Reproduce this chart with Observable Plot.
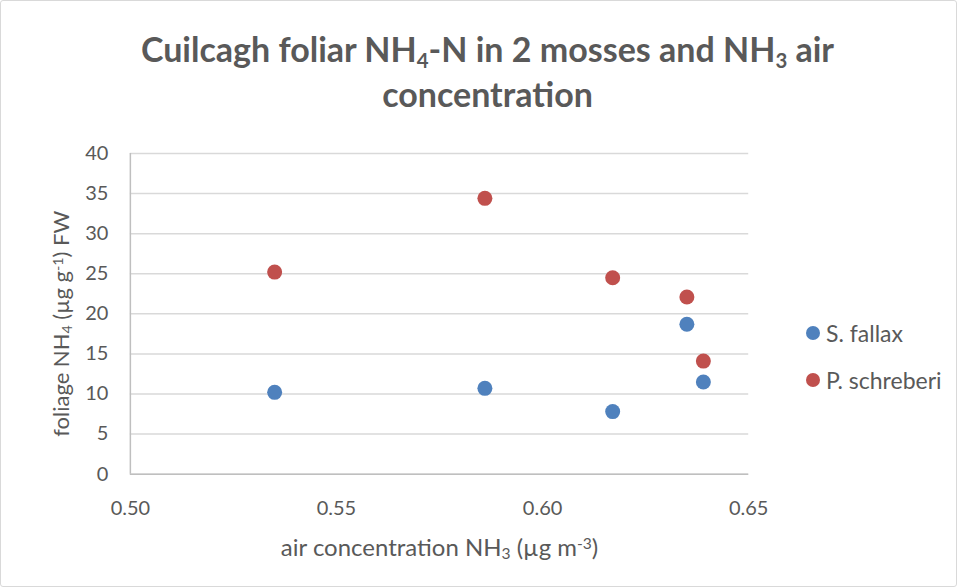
<!DOCTYPE html>
<html>
<head>
<meta charset="utf-8">
<script src="https://cdn.jsdelivr.net/npm/d3@7"></script>
<script src="https://cdn.jsdelivr.net/npm/@observablehq/plot@0.6"></script>
<style>
  html, body { margin: 0; padding: 0; background: #fff; }
  #wrap { position: relative; width: 955px; height: 585px; border: 1px solid #d9d9d9; border-radius: 3px; overflow: hidden; font-family: Lato, "Open Sans", sans-serif; color: #595959; }
  #title { position: absolute; left: 18px; right: 0; top: 25px; text-align: center; font-weight: bold; font-size: 34px; line-height: 45px; color: #595959; }
  #title sub { font-size: 0.6em; vertical-align: -0.3em; line-height: 0; }
  #chart { position: absolute; left: -1px; top: 124px; }
  .leg { position: absolute; font-size: 23px; color: #595959; display: flex; align-items: center; white-space: nowrap; }
  .leg span.sw { display: inline-block; width: 14px; height: 14px; border-radius: 50%; margin-right: 6px; }
</style>
</head>
<body>
<div id="wrap">
  <div id="title">Cuilcagh foliar NH<sub>4</sub>-N in 2 mosses and NH<sub>3</sub> air<br>concentration</div>
  <div id="chart"></div>
  <div id="legend"></div>
</div>
<script>
// Data
const airNH3 = [0.535, 0.586, 0.617, 0.635, 0.639];
const sFallax = [10.2, 10.7, 7.8, 18.7, 11.5];
const pSchreberi = [25.2, 34.4, 24.5, 22.1, 14.1];
const seriesNames = ["S. fallax", "P. schreberi"];
const seriesColors = ["#4F81BD", "#C0504D"];
const xTicks = [0.50, 0.55, 0.60, 0.65];
const yTicks = [0, 5, 10, 15, 20, 25, 30, 35, 40];
const xLabel = "air concentration NH3 (µg m-3)";
const yLabel = "foliage NH4 (µg g-1) FW";

const rows = [];
airNH3.forEach((x, i) => rows.push({x, y: sFallax[i], s: seriesNames[0]}));
airNH3.forEach((x, i) => rows.push({x, y: pSchreberi[i], s: seriesNames[1]}));

const chart = Plot.plot({
  width: 957,
  height: 461,
  marginLeft: 130,
  marginRight: 208,
  marginTop: 28,
  marginBottom: 112,
  style: {fontFamily: "Lato, 'Open Sans', sans-serif", fontSize: "20px", color: "#595959", background: "transparent", overflow: "visible"},
  x: {domain: [0.5, 0.65]},
  y: {domain: [0, 40]},
  color: {domain: seriesNames, range: seriesColors},
  marks: [
    Plot.gridY(yTicks, {stroke: "#d9d9d9", strokeOpacity: 1, strokeWidth: 1.5}),
    Plot.ruleY([0], {stroke: "#bfbfbf", strokeWidth: 1.5}),
    Plot.ruleX([0.5], {stroke: "#bfbfbf", strokeWidth: 1.5}),
    Plot.axisX(xTicks, {tickSize: 0, tickPadding: 27, tickFormat: d => d.toFixed(2), fill: "#595959", label: null}),
    Plot.axisY(yTicks, {tickSize: 0, tickPadding: 22, fill: "#595959", label: null}),
    Plot.text([xLabel], {frameAnchor: "bottom", dy: 82, text: d => d, fontSize: 24, fill: "#595959", textAnchor: "middle", className: "xlab"}),
    Plot.text([yLabel], {frameAnchor: "left", dx: -68, dy: 10, rotate: -90, text: d => d, fontSize: 22, fill: "#595959", textAnchor: "middle", className: "ylab"}),
    Plot.dot(rows, {x: "x", y: "y", fill: "s", r: 7.5, stroke: "none"})
  ]
});
document.getElementById("chart").appendChild(chart);

// Rich text for sub/superscripts in axis labels
function richLabel(sel, parts) {
  d3.select(chart).selectAll(sel + " text").each(function() {
    const t = d3.select(this);
    t.text(null);
    parts.forEach(([s, kind]) => {
      const ts = t.append("tspan").text(s);
      if (kind === "sub") ts.attr("font-size", "0.65em").attr("baseline-shift", "-20%");
      if (kind === "sup") ts.attr("font-size", "0.65em").attr("baseline-shift", "45%");
    });
  });
}
richLabel(".xlab", [["air concentration NH", ""], ["3", "sub"], [" (µg m", ""], ["-3", "sup"], [")", ""]]);
richLabel(".ylab", [["foliage NH", ""], ["4", "sub"], [" (µg g", ""], ["-1", "sup"], [") FW", ""]]);

// legend (HTML, using same colors/names)
const legend = document.getElementById("legend");
seriesNames.forEach((name, i) => {
  const d = document.createElement("div");
  d.className = "leg";
  d.style.left = "805px";
  d.style.top = (318 + i * 47) + "px";
  d.innerHTML = `<span class="sw" style="background:${seriesColors[i]}"></span>${name}`;
  legend.appendChild(d);
});
</script>
</body>
</html>
